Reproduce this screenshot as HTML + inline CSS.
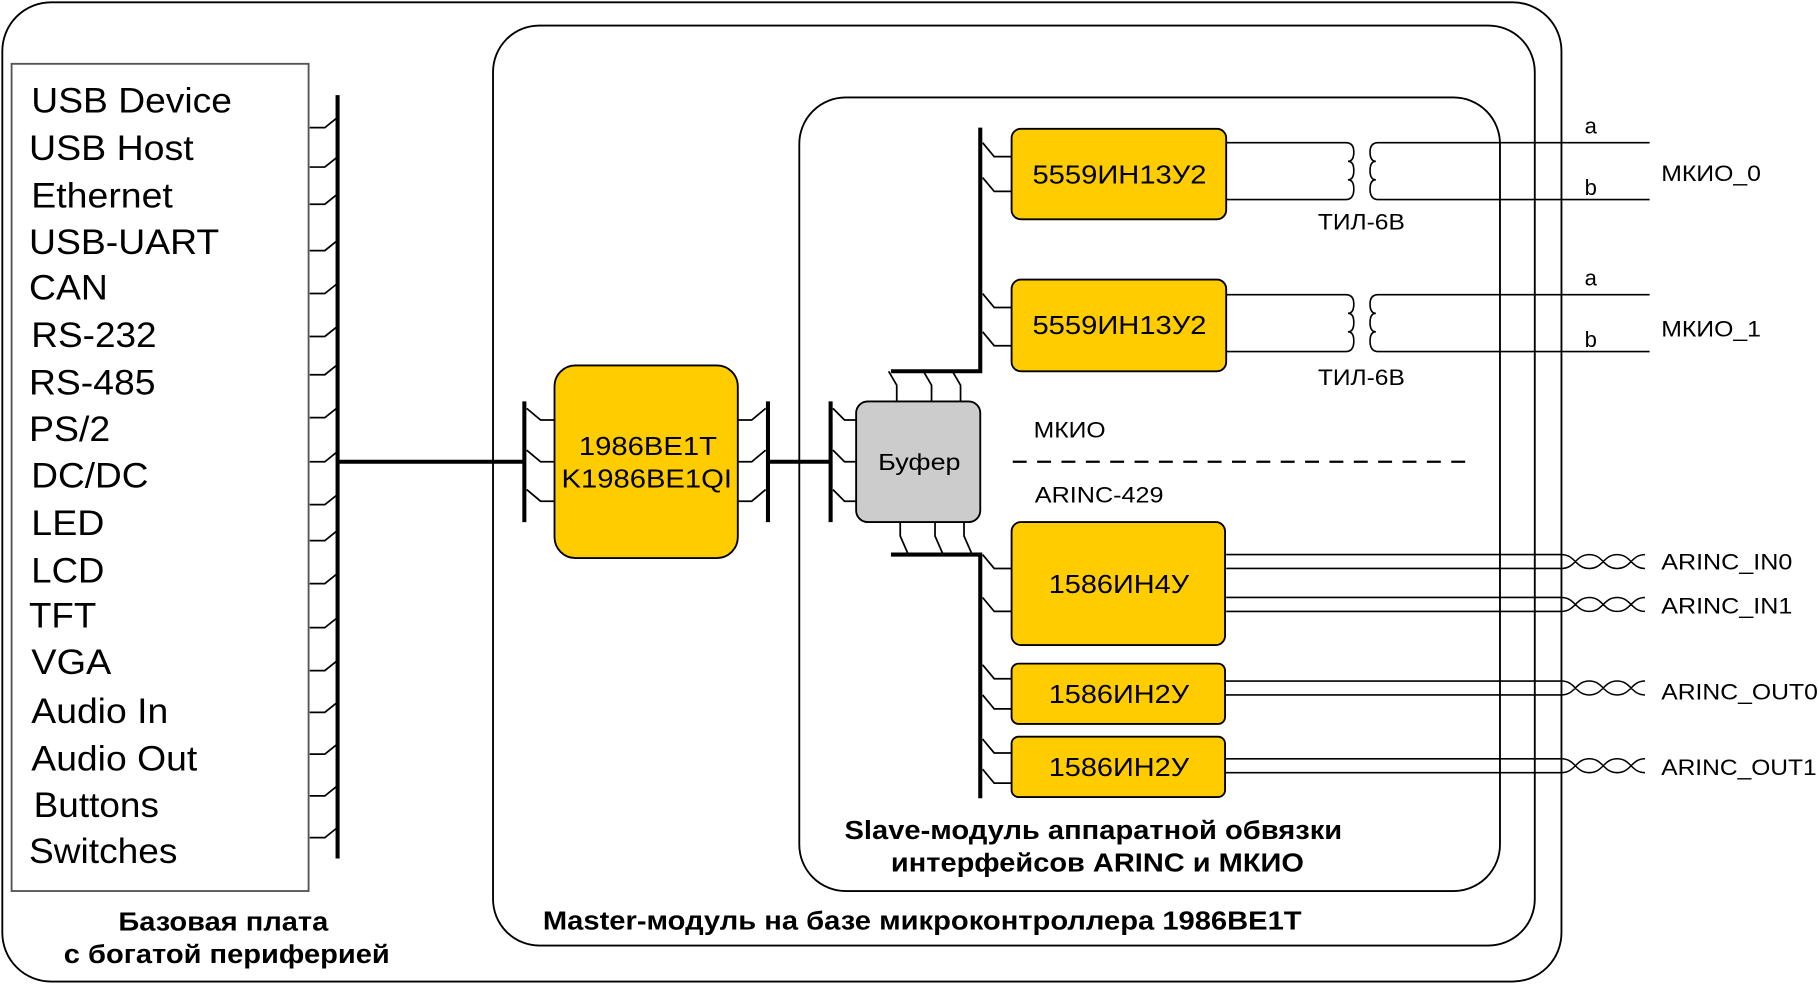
<!DOCTYPE html>
<html><head><meta charset="utf-8"><style>
html,body{margin:0;padding:0;background:#fff;}
svg{display:block;font-family:"Liberation Sans",Arial,Helvetica,sans-serif;}
</style></head><body>
<svg width="1819" height="985" viewBox="0 0 1568 849" preserveAspectRatio="none" xmlns="http://www.w3.org/2000/svg" font-family="'Liberation Sans', Arial, Helvetica, sans-serif">
<g fill="none" stroke="#000" stroke-width="1.6">
<rect x="2" y="2" width="1344" height="844" rx="42"/>
<rect x="425" y="22" width="898" height="793" rx="40"/>
<rect x="689" y="84" width="604" height="684" rx="40"/>
<rect x="10" y="55" width="256" height="713" stroke="#555"/>
</g>
<g font-size="30" fill="#000" lengthAdjust="spacingAndGlyphs">
<text x="27" y="97" textLength="173" lengthAdjust="spacingAndGlyphs">USB Device</text>
<text x="25" y="138" textLength="142" lengthAdjust="spacingAndGlyphs">USB Host</text>
<text x="27" y="179" textLength="122" lengthAdjust="spacingAndGlyphs">Ethernet</text>
<text x="25" y="219" textLength="164" lengthAdjust="spacingAndGlyphs">USB-UART</text>
<text x="25" y="258" textLength="68" lengthAdjust="spacingAndGlyphs">CAN</text>
<text x="27" y="299" textLength="108" lengthAdjust="spacingAndGlyphs">RS-232</text>
<text x="25" y="340" textLength="109" lengthAdjust="spacingAndGlyphs">RS-485</text>
<text x="25" y="380" textLength="70" lengthAdjust="spacingAndGlyphs">PS/2</text>
<text x="27" y="420" textLength="101" lengthAdjust="spacingAndGlyphs">DC/DC</text>
<text x="27" y="461" textLength="63" lengthAdjust="spacingAndGlyphs">LED</text>
<text x="27" y="502" textLength="63" lengthAdjust="spacingAndGlyphs">LCD</text>
<text x="25" y="541" textLength="58" lengthAdjust="spacingAndGlyphs">TFT</text>
<text x="27" y="581" textLength="69" lengthAdjust="spacingAndGlyphs">VGA</text>
<text x="27" y="623" textLength="118" lengthAdjust="spacingAndGlyphs">Audio In</text>
<text x="27" y="664" textLength="143" lengthAdjust="spacingAndGlyphs">Audio Out</text>
<text x="29" y="704" textLength="108" lengthAdjust="spacingAndGlyphs">Buttons</text>
<text x="25" y="744" textLength="128" lengthAdjust="spacingAndGlyphs">Switches</text>
</g>
<g font-size="22" font-weight="bold">
<text x="102" y="802" textLength="181" lengthAdjust="spacingAndGlyphs">Базовая плата</text>
<text x="55" y="830" textLength="281" lengthAdjust="spacingAndGlyphs">с богатой периферией</text>
<text x="468" y="801" textLength="654" lengthAdjust="spacingAndGlyphs">Master-модуль на базе микроконтроллера 1986ВЕ1Т</text>
<text x="728" y="723" textLength="429" lengthAdjust="spacingAndGlyphs">Slave-модуль аппаратной обвязки</text>
<text x="768" y="751" textLength="356" lengthAdjust="spacingAndGlyphs">интерфейсов ARINC и МКИО</text>
</g>
<g stroke="#000" fill="none" stroke-width="1.5">
<path d="M267 110h13l10-8M267 144h13l10-8M267 176h13l10-8M267 216h13l10-8M267 253h13l10-8M267 290h13l10-8M267 323h13l10-8M267 360h13l10-8M267 398h13l10-8M267 435h13l10-8M267 466h13l10-8M267 503h13l10-8M267 541h13l10-8M267 578h13l10-8M267 614h13l10-8M267 650h13l10-8M267 686h13l10-8M267 722h13l10-8"/>
<path d="M454 352l12 10h12M454 388l12 10h12M454 422l12 10h12"/>
<path d="M636 362h12l12-10M636 398h12l12-10M636 432h12l12-10"/>
<path d="M718 352l10 10h10M718 388l10 10h10M718 422l10 10h10"/>
<path d="M773 346v-14l-7-12M803 346v-14l-7-12M828 346v-14l-7-12"/>
<path d="M776 450v12l7 16M806 450v12l7 16M831 450v12l7 16"/>
<path d="M847 123l10 12h15M847 153l10 12h15M847 253l10 12h15M847 286l10 12h15M847 478l10 12h15M847 515l10 12h15M847 573l10 12h15M847 599l10 12h15M847 637l10 12h15M847 663l10 12h15"/>
</g>
<g stroke="#000" stroke-width="3.5" fill="none">
<path d="M291 82V740"/><path d="M291 398H452"/><path d="M452 346V450"/><path d="M662 346V450M662 398H716M716 346V450"/>
<path d="M768 320H845V110"/><path d="M768 478H845V688"/>
</g>
<rect x="478" y="315" width="158" height="166" rx="18" fill="#fc0" stroke="#000" stroke-width="1.6"/>
<text x="499" y="392" font-size="22" textLength="119" lengthAdjust="spacingAndGlyphs">1986BE1T</text>
<text x="484" y="420" font-size="22" textLength="147" lengthAdjust="spacingAndGlyphs">K1986BE1QI</text>
<rect x="738" y="346" width="107" height="104" rx="10" fill="#ccc" stroke="#000" stroke-width="1.6"/>
<text x="757" y="405" font-size="20" textLength="71" lengthAdjust="spacingAndGlyphs">Буфер</text>
<g fill="#fc0" stroke="#000" stroke-width="1.6">
<rect x="872" y="111" width="185" height="78" rx="8"/><rect x="872" y="241" width="185" height="79" rx="8"/>
<rect x="872" y="450" width="184" height="106" rx="8"/><rect x="872" y="572" width="184" height="52" rx="6"/>
<rect x="872" y="635" width="184" height="52" rx="6"/>
</g>
<g font-size="22">
<text x="890" y="158" textLength="150" lengthAdjust="spacingAndGlyphs">5559ИН13У2</text>
<text x="890" y="288" textLength="150" lengthAdjust="spacingAndGlyphs">5559ИН13У2</text>
<text x="904" y="511" textLength="121" lengthAdjust="spacingAndGlyphs">1586ИН4У</text>
<text x="904" y="606" textLength="121" lengthAdjust="spacingAndGlyphs">1586ИН2У</text>
<text x="904" y="669" textLength="121" lengthAdjust="spacingAndGlyphs">1586ИН2У</text>
</g>
<g fill="none" stroke="#000" stroke-width="1.4">
<path d="M1057 123H1160q7 0 7 8q0 8-5 8q5 0 5 8q0 8-5 8q5 0 5 8q0 9-7 9H1057"/>
<path d="M1422 123H1188q-7 0-7 8q0 8 5 8q-5 0-5 8q0 8 5 8q-5 0-5 8q0 9 7 9H1422"/>
<path d="M1057 254H1160q7 0 7 8q0 8-5 8q5 0 5 8q0 8-5 8q5 0 5 8q0 9-7 9H1057"/>
<path d="M1422 254H1188q-7 0-7 8q0 8 5 8q-5 0-5 8q0 8 5 8q-5 0-5 8q0 9 7 9H1422"/>
<path d="M1057 478H1346M1057 490H1346M1057 515H1346M1057 527H1346M1056 587H1346M1056 599H1346M1056 654H1346M1056 666H1346"/>
</g>
<g fill="none" stroke="#000" stroke-width="1.3">
<path d="M1346 478c12 0 12 12 24 12s12-12 24-12s12 12 24 12M1346 490c12 0 12-12 24-12s12 12 24 12s12-12 24-12"/>
<path d="M1346 515c12 0 12 12 24 12s12-12 24-12s12 12 24 12M1346 527c12 0 12-12 24-12s12 12 24 12s12-12 24-12"/>
<path d="M1346 587c12 0 12 12 24 12s12-12 24-12s12 12 24 12M1346 599c12 0 12-12 24-12s12 12 24 12s12-12 24-12"/>
<path d="M1346 654c12 0 12 12 24 12s12-12 24-12s12 12 24 12M1346 666c12 0 12-12 24-12s12 12 24 12s12-12 24-12"/>
</g>
<path d="M873 398H1265" stroke="#000" stroke-width="2" stroke-dasharray="12,9"/>
<g font-size="19">
<text x="1366" y="115">a</text><text x="1366" y="168">b</text>
<text x="1432" y="156" textLength="86" lengthAdjust="spacingAndGlyphs">МКИО_0</text>
<text x="1136" y="198" textLength="75" lengthAdjust="spacingAndGlyphs">ТИЛ-6В</text>
<text x="1366" y="246">a</text><text x="1366" y="299">b</text>
<text x="1432" y="290" textLength="86" lengthAdjust="spacingAndGlyphs">МКИО_1</text>
<text x="1136" y="332" textLength="75" lengthAdjust="spacingAndGlyphs">ТИЛ-6В</text>
<text x="891" y="377" textLength="62" lengthAdjust="spacingAndGlyphs">МКИО</text>
<text x="892" y="433" textLength="111" lengthAdjust="spacingAndGlyphs">ARINC-429</text>
<text x="1432" y="491" textLength="113" lengthAdjust="spacingAndGlyphs">ARINC_IN0</text>
<text x="1432" y="529" textLength="113" lengthAdjust="spacingAndGlyphs">ARINC_IN1</text>
<text x="1432" y="603" textLength="135" lengthAdjust="spacingAndGlyphs">ARINC_OUT0</text>
<text x="1432" y="668" textLength="134" lengthAdjust="spacingAndGlyphs">ARINC_OUT1</text>
</g>
</svg>
</body></html>
